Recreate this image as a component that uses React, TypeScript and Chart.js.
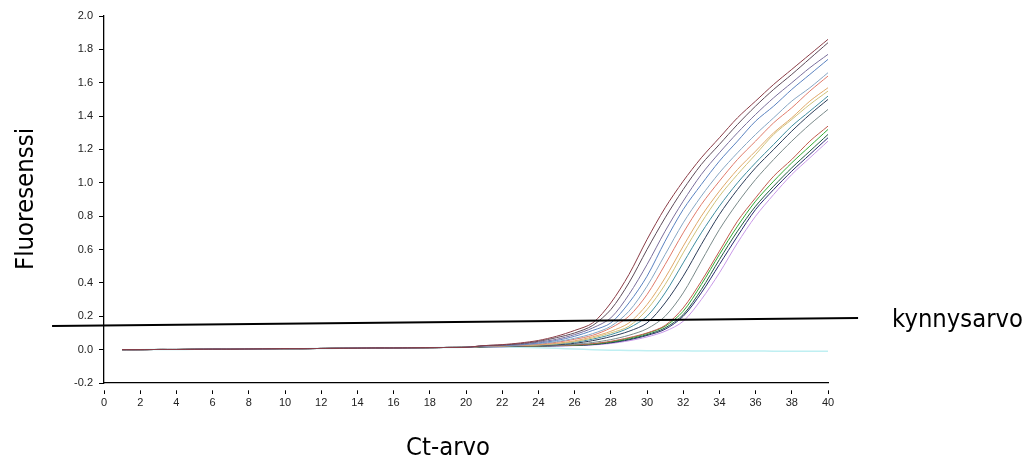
import { useEffect, useRef } from "react";
import { Chart, registerables } from "chart.js";

Chart.register(...registerables);

const cycles = [1, 2, 3, 4, 5, 6, 7, 8, 9, 10, 11, 12, 13, 14, 15, 16, 17, 18, 19, 20, 21, 22, 23, 24, 25, 26, 27, 28, 29, 30, 31, 32, 33, 34, 35, 36, 37, 38, 39, 40];

// shared baseline, cycles 1-20
const baseline = [0.0, 0.0, 0.001, 0.001, 0.002, 0.003, 0.003, 0.004, 0.005, 0.006, 0.006, 0.007, 0.008, 0.009, 0.01, 0.01, 0.011, 0.012, 0.013, 0.014];

// per-sample amplification, cycles 21-40
const sample1 = [0.024, 0.03, 0.04, 0.055, 0.08, 0.115, 0.16, 0.28, 0.45, 0.66, 0.85, 1.01, 1.15, 1.27, 1.39, 1.49, 1.59, 1.68, 1.77, 1.86];
const sample2 = [0.024, 0.028, 0.036, 0.05, 0.072, 0.1, 0.145, 0.24, 0.4, 0.6, 0.79, 0.96, 1.11, 1.23, 1.35, 1.46, 1.56, 1.65, 1.745, 1.84];
const sample3 = [0.023, 0.026, 0.033, 0.045, 0.062, 0.09, 0.13, 0.19, 0.33, 0.51, 0.71, 0.89, 1.05, 1.18, 1.3, 1.41, 1.51, 1.6, 1.69, 1.77];
const sample4 = [0.022, 0.025, 0.03, 0.04, 0.055, 0.08, 0.115, 0.16, 0.28, 0.44, 0.65, 0.84, 0.99, 1.13, 1.25, 1.37, 1.46, 1.56, 1.65, 1.74];
const sample5 = [0.021, 0.024, 0.028, 0.036, 0.048, 0.068, 0.096, 0.14, 0.23, 0.38, 0.57, 0.76, 0.92, 1.06, 1.18, 1.29, 1.39, 1.49, 1.57, 1.66];
const sample6 = [0.021, 0.023, 0.027, 0.033, 0.044, 0.062, 0.086, 0.13, 0.2, 0.33, 0.51, 0.7, 0.87, 1.01, 1.14, 1.25, 1.36, 1.45, 1.55, 1.64];
const sample7 = [0.02, 0.022, 0.026, 0.029, 0.038, 0.053, 0.077, 0.11, 0.16, 0.27, 0.43, 0.62, 0.8, 0.95, 1.08, 1.19, 1.3, 1.39, 1.49, 1.57];
const sample8 = [0.02, 0.022, 0.025, 0.028, 0.035, 0.048, 0.07, 0.1, 0.14, 0.24, 0.39, 0.58, 0.76, 0.92, 1.05, 1.17, 1.29, 1.38, 1.47, 1.55];
const sample9 = [0.019, 0.021, 0.024, 0.027, 0.033, 0.044, 0.063, 0.09, 0.13, 0.2, 0.34, 0.52, 0.7, 0.86, 1.0, 1.12, 1.23, 1.34, 1.43, 1.52];
const sample10 = [0.019, 0.02, 0.023, 0.026, 0.029, 0.038, 0.054, 0.078, 0.11, 0.16, 0.28, 0.44, 0.63, 0.81, 0.96, 1.09, 1.2, 1.31, 1.41, 1.5];
const sample11 = [0.018, 0.02, 0.022, 0.024, 0.027, 0.032, 0.043, 0.06, 0.086, 0.125, 0.2, 0.34, 0.53, 0.72, 0.88, 1.02, 1.14, 1.25, 1.35, 1.44];
const sample12 = [0.018, 0.019, 0.021, 0.023, 0.025, 0.028, 0.036, 0.05, 0.072, 0.1, 0.145, 0.25, 0.41, 0.59, 0.77, 0.91, 1.04, 1.14, 1.25, 1.34];
const sample13 = [0.018, 0.019, 0.021, 0.023, 0.025, 0.027, 0.034, 0.047, 0.068, 0.097, 0.14, 0.23, 0.39, 0.57, 0.74, 0.89, 1.01, 1.12, 1.22, 1.32];
const sample14 = [0.017, 0.019, 0.02, 0.022, 0.024, 0.026, 0.032, 0.044, 0.063, 0.09, 0.13, 0.21, 0.36, 0.54, 0.71, 0.86, 0.98, 1.09, 1.19, 1.29];
const sample15 = [0.017, 0.018, 0.02, 0.021, 0.023, 0.025, 0.03, 0.041, 0.059, 0.085, 0.122, 0.2, 0.34, 0.51, 0.68, 0.84, 0.96, 1.07, 1.17, 1.27];
const sample16 = [0.016, 0.017, 0.019, 0.02, 0.022, 0.024, 0.028, 0.037, 0.053, 0.076, 0.11, 0.17, 0.3, 0.46, 0.64, 0.8, 0.93, 1.05, 1.15, 1.25];

// negative control, cycles 1-40
const control = [0.0, 0.0, 0.001, 0.001, 0.002, 0.003, 0.003, 0.004, 0.005, 0.006, 0.006, 0.007, 0.008, 0.009, 0.01, 0.01, 0.011, 0.012, 0.013, 0.014, 0.015, 0.015, 0.014, 0.012, 0.008, 0.004, 0.0, -0.003, -0.005, -0.006, -0.007, -0.007, -0.008, -0.008, -0.008, -0.008, -0.009, -0.009, -0.009, -0.009];

const samples = [sample1, sample2, sample3, sample4, sample5, sample6, sample7, sample8, sample9, sample10, sample11, sample12, sample13, sample14, sample15, sample16];
const sampleColors = ["#8a3c46", "#5c4a58", "#7a6e9c", "#5a82c0", "#86a6c4", "#e07a6a", "#e0a868", "#cfc27a", "#3f8ea0", "#2c3c58", "#7a8a8a", "#c05a4c", "#30a830", "#1e5a40", "#2a2a70", "#c898e8"];

// threshold line end points (Ct, fluorescence)
const thresholdX = [-2.87, 41.66];
const thresholdY = [0.142, 0.19];

export default function App() {
  const ref = useRef<HTMLCanvasElement>(null);

  useEffect(() => {
    if (!ref.current) return;

    const datasets: any[] = samples.map((tail, i) => ({
      data: cycles.map((c, j) => ({ x: c, y: j < baseline.length ? baseline[j] : tail[j - baseline.length] })),
      borderColor: sampleColors[i],
      borderWidth: 1,
      pointRadius: 0,
      tension: 0.3,
      fill: false,
      order: 2,
    }));
    datasets.push({
      data: cycles.map((c, j) => ({ x: c, y: control[j] })),
      borderColor: "#bfeff2",
      borderWidth: 1.5,
      pointRadius: 0,
      tension: 0.3,
      order: 3,
    });
    datasets.push({
      data: thresholdX.map((x, i) => ({ x, y: thresholdY[i] })),
      borderColor: "#000000",
      borderWidth: 2,
      pointRadius: 0,
      clip: false,
      order: 0,
    });

    const textPlugin = {
      id: "axisTexts",
      afterDraw(chart: any) {
        const ctx = chart.ctx as CanvasRenderingContext2D;
        const draw = (t: string, x: number, y: number, w: number, rot: boolean) => {
          ctx.save();
          ctx.fillStyle = "#000";
          ctx.font = '24px "DejaVu Sans"';
          ctx.textAlign = "left";
          ctx.textBaseline = "alphabetic";
          ctx.translate(x, y);
          if (rot) ctx.rotate(-Math.PI / 2);
          const m = ctx.measureText(t).width;
          ctx.scale(w / m, 1);
          ctx.fillText(t, 0, 0);
          ctx.restore();
        };
        draw("Fluoresenssi", 33, 270, 142, true);
        draw("Ct-arvo", 406, 455, 84, false);
        draw("kynnysarvo", 892, 327, 131, false);
      },
    };

    const chart = new Chart(ref.current, {
      type: "line",
      data: { datasets },
      options: {
        animation: false,
        responsive: false,
        layout: { padding: { top: 16, right: 201, left: 0, bottom: 0 } },
        plugins: { legend: { display: false }, tooltip: { enabled: false } },
        scales: {
          x: {
            type: "linear",
            min: 0,
            max: 40,
            afterFit: (s: any) => {
              s.height = 76;
            },
            ticks: {
              stepSize: 2,
              color: "#222",
              padding: 2,
              font: { family: "'Liberation Sans', Arial", size: 11 },
            },
            grid: {
              drawOnChartArea: false,
              drawTicks: true,
              tickLength: 11,
              tickColor: "#000",
              tickBorderDash: [4, 7],
              tickBorderDashOffset: 4,
            },
            border: { color: "#000", width: 1.3 },
          },
          y: {
            min: -0.2,
            max: 2.0,
            afterFit: (s: any) => {
              s.width = 104;
            },
            ticks: {
              stepSize: 0.2,
              color: "#222",
              padding: 3,
              font: { family: "'Liberation Sans', Arial", size: 11 },
              callback: (v: any) => Number(v).toFixed(1),
            },
            grid: {
              drawOnChartArea: false,
              drawTicks: true,
              tickLength: 8,
              tickColor: "#000",
              tickBorderDash: [5, 3],
              tickBorderDashOffset: 5,
            },
            border: { color: "#000", width: 1.3 },
          },
        },
      },
      plugins: [textPlugin],
    });

    return () => chart.destroy();
  }, []);

  return (
    <div style={{ position: "fixed", left: 0, top: 0, width: 1029, height: 459, background: "#fff" }}>
      <canvas ref={ref} width={1029} height={459} style={{ display: "block" }} />
    </div>
  );
}
